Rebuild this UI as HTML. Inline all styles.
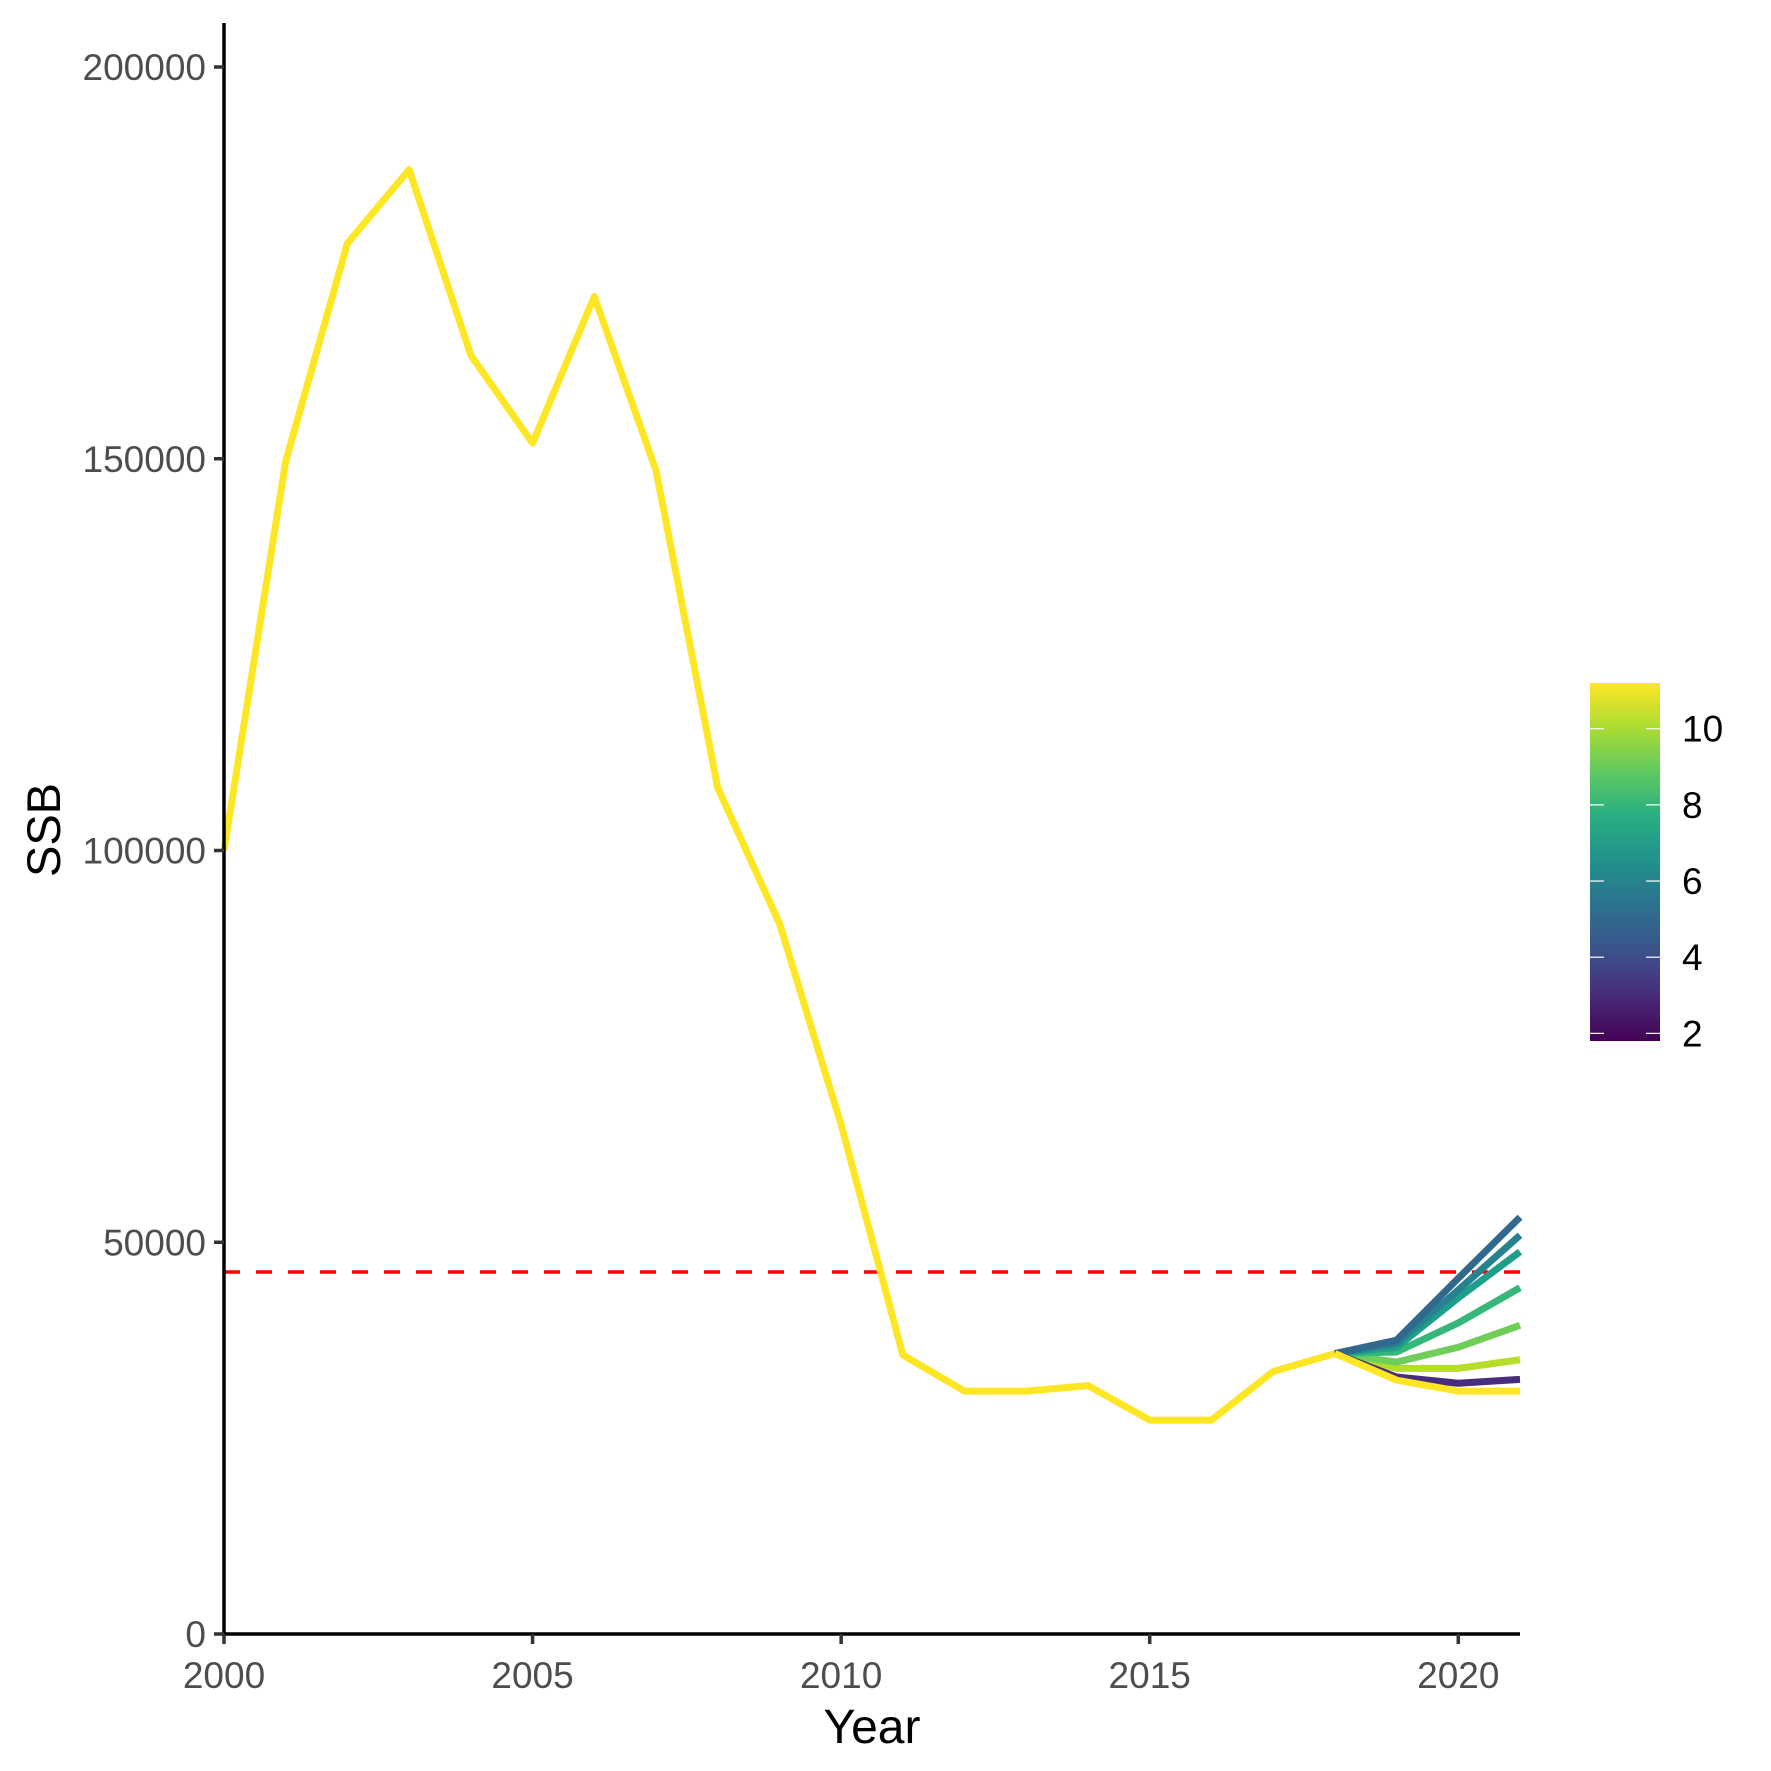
<!DOCTYPE html>
<html><head><meta charset="utf-8"><style>body{margin:0;background:#fff}svg{display:block}text{font-family:"Liberation Sans",Arial,sans-serif}</style></head>
<body>
<svg id="chart" width="1771" height="1771" viewBox="0 0 1771 1771" xmlns="http://www.w3.org/2000/svg">
<defs><linearGradient id="vir" x1="0" y1="1" x2="0" y2="0">
<stop offset="0" stop-color="#440154"/><stop offset="0.13" stop-color="#472d7b"/><stop offset="0.25" stop-color="#3b528b"/><stop offset="0.38" stop-color="#2c728e"/><stop offset="0.5" stop-color="#21918c"/><stop offset="0.63" stop-color="#28ae80"/><stop offset="0.75" stop-color="#5ec962"/><stop offset="0.88" stop-color="#addc30"/><stop offset="1" stop-color="#fde725"/></linearGradient></defs>
<g id="plot"></g>
</svg>
<script>
const years = [2000,2001,2002,2003,2004,2005,2006,2007,2008,2009,2010,2011,2012,2013,2014,2015,2016,2017,2018];
const ssb = [100000,149700,177500,186900,163200,152000,170700,148500,108000,90700,65000,35600,31000,31000,31700,27300,27300,33500,35800];
const projYears = [2018,2019,2020,2021];
const projColors = ["#fde725","#472d7b","#b5de2b","#6ece58","#35b779","#1f9e89","#26828e","#31688e"];
const projSeries = [
 [35800,32400,31000,31000],
 [35800,32800,32000,32500],
 [35800,33900,33900,35000],
 [35800,34700,36600,39400],
 [35800,36000,39700,44200],
 [35800,36600,42900,48800],
 [35800,37100,43900,50900],
 [35800,37500,45400,53200]
];
const refLine = 46200;
const yTicks = [0,50000,100000,150000,200000];
const xTicks = [2000,2005,2010,2015,2020];
const legendTicks = [2,4,6,8,10];

const NS="http://www.w3.org/2000/svg";
const g=document.getElementById('plot');
const X0=224,X1=1520,Y0=1634,Y200=67;
const sx=v=>X0+(v-2000)*(X1-X0)/21;
const sy=v=>Y0-v*(Y0-Y200)/200000;
function el(t,a,p){const e=document.createElementNS(NS,t);for(const k in a)e.setAttribute(k,a[k]);(p||g).appendChild(e);return e;}

let r=el('line',{x1:X0,x2:X1,y1:sy(refLine),y2:sy(refLine),stroke:'#ff0000','stroke-width':3.5,'stroke-dasharray':'16 16'});



const order=[2,3,4,5,6,7,1,0];
order.forEach(i=>{
 const pts=projSeries[i].map((v,j)=>sx(projYears[j])+','+sy(v)).join(' ');
 const p=el('polyline',{points:pts,fill:'none',stroke:projColors[i],'stroke-width':7,'stroke-linejoin':'round'});
 
 
});
const hp=el('polyline',{points:years.map((y,i)=>sx(y)+','+sy(ssb[i])).join(' '),fill:'none',stroke:'#fde725','stroke-width':7,'stroke-linejoin':'round'});



let ax=el('line',{x1:X0,x2:X0,y1:23,y2:Y0+1.75,stroke:'#000','stroke-width':3.5});


ax=el('line',{x1:X0-1.75,x2:X1,y1:Y0,y2:Y0,stroke:'#000','stroke-width':3.5});



yTicks.forEach(v=>{
 el('line',{x1:X0-10,x2:X0,y1:sy(v),y2:sy(v),stroke:'#333','stroke-width':3.5});
 const t=el('text',{x:X0-18,y:sy(v)+13,'text-anchor':'end','font-size':37,fill:'#4d4d4d'});
 t.textContent=v;
 
 
});
xTicks.forEach(v=>{
 el('line',{x1:sx(v),x2:sx(v),y1:Y0,y2:Y0+10,stroke:'#333','stroke-width':3.5});
 const t=el('text',{x:sx(v),y:Y0+54,'text-anchor':'middle','font-size':37,fill:'#4d4d4d'});
 t.textContent=v;
 
 
});
let t=el('text',{x:872,y:1743,'text-anchor':'middle','font-size':48,fill:'#000'});t.textContent='Year';


t=el('text',{x:0,y:0,'text-anchor':'middle','font-size':47,fill:'#000',transform:'translate(60,830) rotate(-90)'});t.textContent='SSB';



const LB=1041,LT=683,lmin=1.8,lmax=11.2;
const ly=v=>LB-(v-lmin)*(LB-LT)/(lmax-lmin);
const cb=el('rect',{x:1590,y:LT,width:70,height:LB-LT,fill:'url(#vir)'});


legendTicks.forEach(v=>{
 el('line',{x1:1590,x2:1604,y1:ly(v),y2:ly(v),stroke:'#fff','stroke-width':1.2});
 el('line',{x1:1646,x2:1660,y1:ly(v),y2:ly(v),stroke:'#fff','stroke-width':1.2});
 const l=el('text',{x:1682,y:ly(v)+13,'font-size':37,fill:'#000'});
 l.textContent=v;
 
 
});
</script>
</body></html>
